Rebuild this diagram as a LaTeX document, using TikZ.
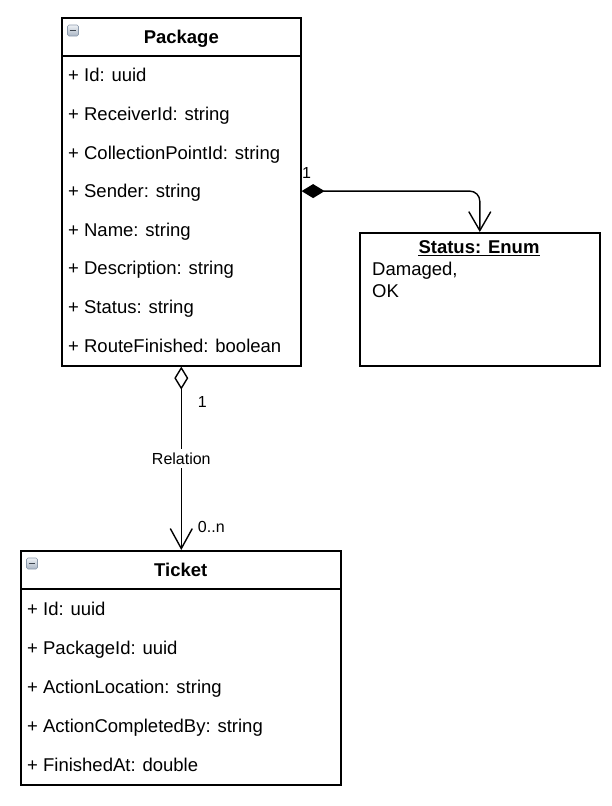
\documentclass[tikz,border=0pt]{standalone}
\usepackage{fontspec}
\setmainfont{Liberation Sans}
\usetikzlibrary{arrows.meta}
\definecolor{iconfillA}{HTML}{EEF1F5}
\definecolor{iconfillB}{HTML}{A9B5C4}
\definecolor{iconline}{HTML}{8C9AAC}
\definecolor{iconbar}{HTML}{3E4650}
\begin{document}
\begin{tikzpicture}[x=1pt,y=-1pt,
  box/.style={draw=black, line width=1.6pt, inner sep=0pt, anchor=north west},
  sep/.style={draw=black, line width=1.6pt},
  row/.style={anchor=west, inner sep=0pt, font=\fontsize{18.5}{22}\selectfont, text height=13pt, text depth=0pt},
  head/.style={inner sep=0pt, font=\fontsize{18.5}{22}\selectfont\bfseries, text height=13pt, text depth=0pt},
  lbl/.style={inner sep=0pt, font=\fontsize{16}{19}\selectfont, text height=11.5pt, text depth=0pt},
  iconbox/.style={draw=iconline, line width=0.6pt, rounded corners=1.5pt, top color=iconfillA, bottom color=iconfillB, minimum size=11pt, inner sep=0pt},
  iconminus/.style={draw=iconbar, line width=1.6pt},
  conn/.style={draw=black, line width=1.4pt}
]
\useasboundingbox (0,0) rectangle (612,806);

% ---------- Package ----------
\node[box, minimum width=239pt, minimum height=348pt] (pkg) at (61,17) {};
\draw[sep] ([yshift=-39pt]pkg.north west) -- ([yshift=-39pt]pkg.north east);
\node[head] (pkgtitle) at ([yshift=-19.5pt]pkg.north) {Package};
\node[iconbox] (pkgicon) at ([xshift=12pt,yshift=-13.5pt]pkg.north west) {};
\draw[iconminus] ([xshift=2.5pt]pkgicon.west) -- ([xshift=-2.5pt]pkgicon.east);
\foreach \t [count=\i] in {+ Id: uuid, + ReceiverId: string, + CollectionPointId: string, + Sender: string, + Name: string, + Description: string, + Status: string, + RouteFinished: boolean}
  \node[row] (p\i) at (68, {56+38.6*(\i-0.5)}) {\t};

% ---------- Status ----------
\node[box, minimum width=240pt, minimum height=133pt] (st) at (359,232) {};
\node[head, anchor=base] (sttitle) at (479,253) {Status: Enum};
\draw[line width=1.3pt] ([yshift=-2.8pt]sttitle.base west) -- ([yshift=-2.8pt]sttitle.base east);
\node[anchor=north west, align=left, inner sep=0pt, font=\fontsize{18.5}{22}\selectfont] (stvals) at (372,261.5) {Damaged,\\OK};

% ---------- Ticket ----------
\node[box, minimum width=320pt, minimum height=234pt] (tkt) at (20,550) {};
\draw[sep] ([yshift=-39pt]tkt.north west) -- ([yshift=-39pt]tkt.north east);
\node[head] (tkttitle) at ([yshift=-19.5pt]tkt.north) {Ticket};
\node[iconbox] (tkticon) at ([xshift=12pt,yshift=-13.5pt]tkt.north west) {};
\draw[iconminus] ([xshift=2.5pt]tkticon.west) -- ([xshift=-2.5pt]tkticon.east);
\foreach \t [count=\i] in {+ Id: uuid, + PackageId: uuid, + ActionLocation: string, + ActionCompletedBy: string, + FinishedAt: double}
  \node[row] (t\i) at (27, {589+39*(\i-0.5)}) {\t};

% ---------- Composition: Package -> Status ----------
\draw[conn, rounded corners=10pt, {Diamond[length=23pt,width=14pt]}-{Straight Barb[length=19pt,width=22pt]}]
  (pkg.east |- p4.west) -| (st.north);
\node[lbl] (compone) at ([xshift=5pt,yshift=18pt]pkg.east |- p4.west) {1};

% ---------- Aggregation: Package -> Ticket ----------
\draw[conn, {Diamond[open,fill=white,length=23pt,width=14pt]}-{Straight Barb[length=20pt,width=22pt]}]
  (pkg.south) -- node[lbl, fill=white, inner ysep=4pt, inner xsep=0pt] (rel) {Relation} (pkg.south |- tkt.north);
\node[lbl] (aggone) at ([xshift=21pt,yshift=-35pt]pkg.south) {1};
\node[lbl] (aggmany) at ([xshift=30pt,yshift=23pt]pkg.south |- tkt.north) {0..n};
\end{tikzpicture}
\end{document}
